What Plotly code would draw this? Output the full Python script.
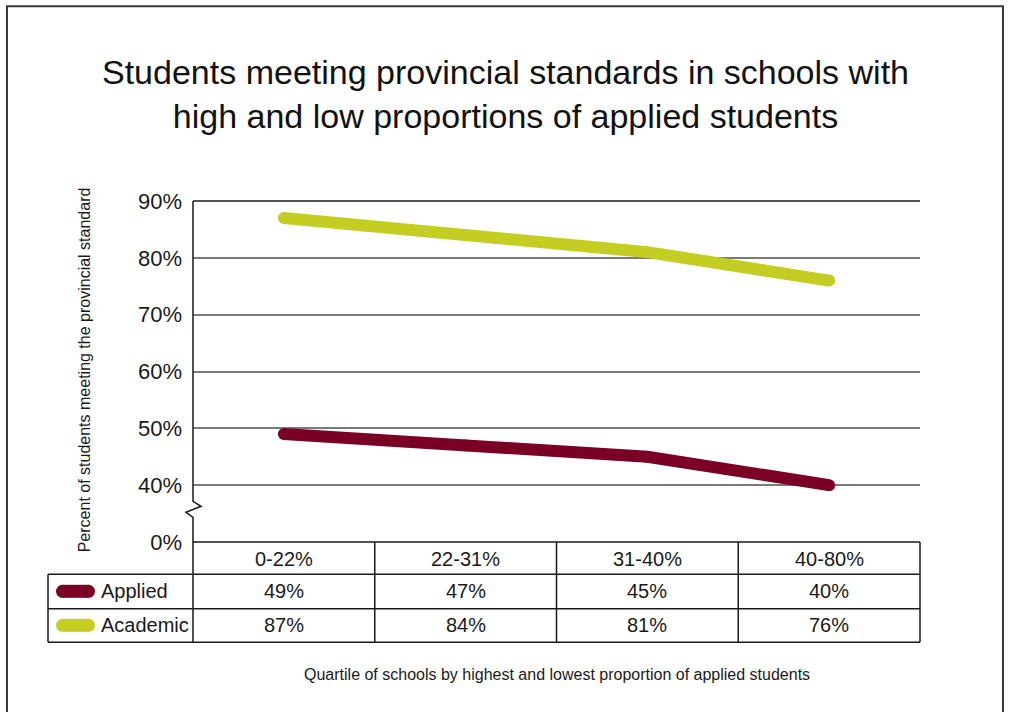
import plotly.graph_objects as go

# ---------------- data ----------------
categories = ["0-22%", "22-31%", "31-40%", "40-80%"]
applied = [49, 47, 45, 40]
academic = [87, 84, 81, 76]
series_names = ["Applied", "Academic"]
series_colors = ["#7B0026", "#C4CE22"]
y_tickvals = [30, 40, 50, 60, 70, 80, 90]
y_ticktext = ["0%", "40%", "50%", "60%", "70%", "80%", "90%"]

title_text = ("Students meeting provincial standards in schools with<br>"
              "high and low proportions of applied students")
y_title = "Percent of students meeting the provincial standard"
x_title = "Quartile of schools by highest and lowest proportion of applied students"

FONT = "Liberation Sans, Arial, sans-serif"
W, H = 1010, 712
PL, PR, PT, PB = 193, 920, 200.7, 541.7


def px(x):
    return (x - PL) / (PR - PL)


def py(y):
    return (PB - y) / (PB - PT)


fig = go.Figure()
for name, vals, col in zip(series_names, [applied, academic], series_colors):
    fig.add_trace(go.Scatter(
        x=categories, y=vals, name=name, mode="lines+markers",
        line=dict(color=col, width=12),
        marker=dict(color=col, size=12, line=dict(width=0)),
        showlegend=False, hoverinfo="skip"))

shapes = []
ann = []
BLACK = "#1a1a1a"

# outer border
shapes.append(dict(type="rect", xref="paper", yref="paper",
                   x0=px(7), x1=px(1003), y0=py(6), y1=py(740),
                   line=dict(color="#3a3a3a", width=2), fillcolor="rgba(0,0,0,0)"))

# top (90%) and bottom (0%) black lines
for yy in [PT, PB]:
    shapes.append(dict(type="line", xref="paper", yref="paper",
                       x0=px(PL), x1=px(PR), y0=py(yy), y1=py(yy),
                       line=dict(color=BLACK, width=1.5)))

# y axis with break
path = (f"M {px(193)},{py(PT)} L {px(193)},{py(501)} L {px(201)},{py(506)} "
        f"L {px(186)},{py(512)} L {px(193)},{py(517)} L {px(193)},{py(642)}")
shapes.append(dict(type="path", xref="paper", yref="paper", path=path,
                   line=dict(color=BLACK, width=1.5)))

# table lines
row_lines = [574, 608.5, 642]
for yy in row_lines:
    shapes.append(dict(type="line", xref="paper", yref="paper",
                       x0=px(48), x1=px(PR), y0=py(yy), y1=py(yy),
                       line=dict(color=BLACK, width=1.5)))
shapes.append(dict(type="line", xref="paper", yref="paper",
                   x0=px(48), x1=px(48), y0=py(574), y1=py(642),
                   line=dict(color=BLACK, width=1.5)))
for i in range(1, len(categories) + 1):
    xx = PL + (PR - PL) * i / len(categories)
    shapes.append(dict(type="line", xref="paper", yref="paper",
                       x0=px(xx), x1=px(xx), y0=py(PB), y1=py(642),
                       line=dict(color=BLACK, width=1.5)))

CM = dict(xanchor="center", yanchor="middle", showarrow=False)

# header row
for c in categories:
    ann.append(dict(x=c, xref="x", y=py(558.5), yref="paper", text=c,
                    font=dict(family=FONT, size=20, color=BLACK), **CM))

# data rows + legend pills
row_centers = [591, 625]
for name, vals, col, yc in zip(series_names, [applied, academic], series_colors, row_centers):
    for c, v in zip(categories, vals):
        ann.append(dict(x=c, xref="x", y=py(yc), yref="paper", text=f"{v}%",
                        font=dict(family=FONT, size=20, color=BLACK), **CM))
    ann.append(dict(x=px(99), xref="paper", y=py(yc), yref="paper", text=name,
                    xanchor="left", yanchor="middle", showarrow=False,
                    font=dict(family=FONT, size=20, color=BLACK)))
    r = 6.5
    x0, x1 = 56, 95
    shapes.append(dict(type="rect", xref="paper", yref="paper",
                       x0=px(x0 + r), x1=px(x1 - r), y0=py(yc - r), y1=py(yc + r),
                       fillcolor=col, line=dict(width=0)))
    for cx in [x0 + r, x1 - r]:
        shapes.append(dict(type="circle", xref="paper", yref="paper",
                           x0=px(cx - r), x1=px(cx + r), y0=py(yc - r), y1=py(yc + r),
                           fillcolor=col, line=dict(width=0)))

# titles
ann.append(dict(x=px(505), xref="paper", y=py(94), yref="paper", text=title_text,
                align="center", font=dict(family=FONT, size=34, color="#111111"), **CM))
ann.append(dict(x=px(84), xref="paper", y=py(370), yref="paper", text=y_title,
                textangle=-90, font=dict(family=FONT, size=16, color=BLACK), **CM))
ann.append(dict(x=px(556.5), xref="paper", y=py(674), yref="paper", text=x_title,
                font=dict(family=FONT, size=16, color=BLACK), **CM))

fig.update_layout(
    width=W, height=H, autosize=False,
    margin=dict(l=PL, r=W - PR, t=201, b=H - 541.7 - 0.3),
    paper_bgcolor="white", plot_bgcolor="white",
    shapes=shapes, annotations=ann,
    xaxis=dict(type="category", range=[-0.5, 3.5], showticklabels=False,
               showgrid=False, zeroline=False, showline=False, ticks=""),
    yaxis=dict(range=[30, 90], tickvals=y_tickvals, ticktext=y_ticktext,
               showgrid=True, gridcolor="#7a7a7a", gridwidth=1.5,
               zeroline=False, showline=False, ticks="",
               ticklabelstandoff=10,
               tickfont=dict(family=FONT, size=22, color=BLACK)),
)

fig.write_html("out.html",
               config={"displayModeBar": False},
               post_script="document.body.style.margin='0';"
                           "document.body.style.overflow='hidden';")
